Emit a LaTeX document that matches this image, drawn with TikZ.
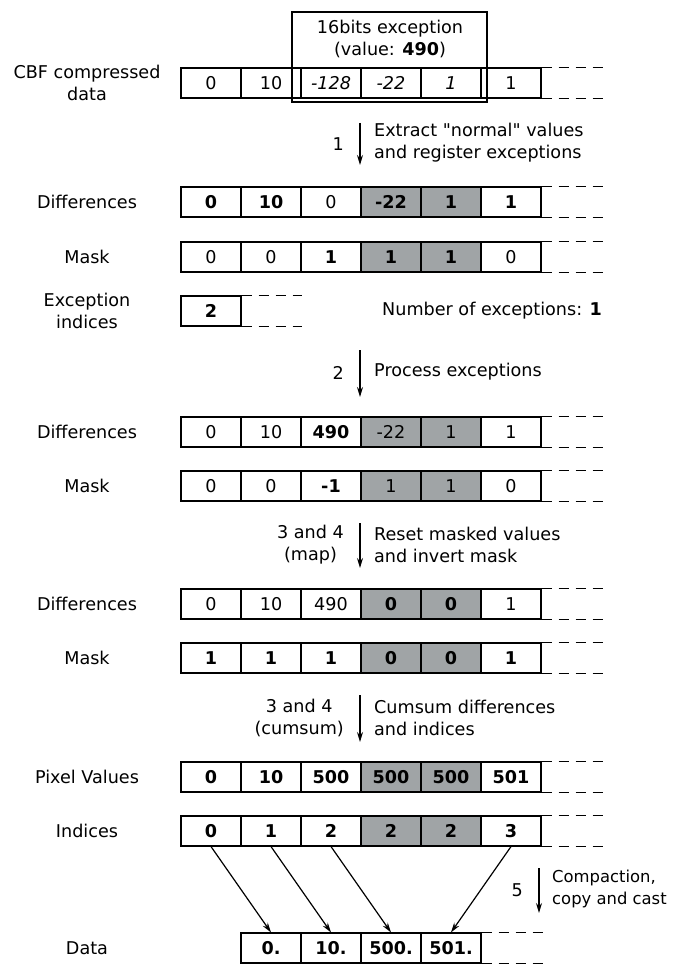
\documentclass[tikz,border=0pt]{standalone}
\usepackage{fontspec}
\setmainfont{DejaVu Sans}
\usetikzlibrary{arrows.meta}
\definecolor{shade}{RGB}{160,164,166}
\newcommand\fsz{\fontsize{17.6}{22}\selectfont}
\tikzset{
  cell/.style={draw, line width=1.1pt, minimum width=60pt, minimum height=30pt,
    inner sep=0pt, font=\fsz},
  cN/.style={cell},
  cB/.style={cell, font=\fsz\bfseries},
  cI/.style={cell, font=\fsz\itshape},
  cNS/.style={cell, fill=shade},
  cBS/.style={cell, fill=shade, font=\fsz\bfseries},
  rowlabel/.style={font=\fsz, align=center, inner sep=0pt},
  txt/.style={font=\fsz, align=left, inner sep=0pt},
  num/.style={font=\fsz, align=center, inner sep=0pt},
  frame/.style={line width=1.5pt},
  tail/.style={line width=1.3pt, dash pattern=on 10pt off 7pt},
  flow/.style={line width=1.2pt, -{Stealth[length=10pt,width=6pt]}},
}
% one row of cells: name, first cell x (left edge), y centre, list of style/text
\newcommand\rowcells[4]{%
  \foreach \st/\tx [count=\i] in {#4} {%
    \node[\st] (#1-\i) at ({#2+60*\i-30},#3) {\tx};
  }%
}
\begin{document}
\begin{tikzpicture}[x=1pt,y=-1pt]
\useasboundingbox (0,0) rectangle (678,965);

% ---------- compressed input ----------
\node[rowlabel] (lcbf) at (87,83) {CBF compressed\\data};
\rowcells{cbf}{181}{83}{cN/0,cN/10,cI/-128,cI/-22,cI/1,cN/1}
\draw[frame] (cbf-1.north west) rectangle (cbf-6.south east);
\draw[tail] (cbf-6.north east) -- ++(62,0);
\draw[tail] (cbf-6.south east) -- ++(62,0);
\node[draw, line width=1.5pt, minimum width=195pt, minimum height=90pt, inner sep=0pt]
  (exc) at (389.5,57) {};
\node[num] (exctxt) at (390,38.5) {16bits exception\\(value: \textbf{490})};

% step 1
\coordinate (s1a) at (360,123);
\coordinate (s1b) at (360,165);
\draw[flow] (s1a) -- (s1b);
\node[num, anchor=east] (n1) at (344,144) {1};
\node[txt, anchor=west] (t1) at (374,143) {Extract \textquotedbl normal\textquotedbl{} values\\and register exceptions};

% ---------- after step 1 ----------
\node[rowlabel] (ld1) at (87,202) {Differences};
\rowcells{d1}{181}{202}{cB/0,cB/10,cN/0,cBS/-22,cBS/1,cB/1}
\draw[frame] (d1-1.north west) rectangle (d1-6.south east);
\draw[tail] (d1-6.north east) -- ++(62,0);
\draw[tail] (d1-6.south east) -- ++(62,0);

\node[rowlabel] (lm1) at (87,257) {Mask};
\rowcells{m1}{181}{257}{cN/0,cN/0,cB/1,cBS/1,cBS/1,cN/0}
\draw[frame] (m1-1.north west) rectangle (m1-6.south east);
\draw[tail] (m1-6.north east) -- ++(62,0);
\draw[tail] (m1-6.south east) -- ++(62,0);

\node[rowlabel] (lex) at (87,311) {Exception\\indices};
\rowcells{ex}{181}{311}{cB/2}
\draw[frame] (ex-1.north west) rectangle (ex-1.south east);
\draw[tail] (ex-1.north east) -- ++(60,0);
\draw[tail] (ex-1.south east) -- ++(60,0);
\node[txt, anchor=west] (nex) at (382,311) {Number of exceptions: \textbf{1}};

% step 2
\coordinate (s2a) at (360,350);
\coordinate (s2b) at (360,397);
\draw[flow] (s2a) -- (s2b);
\node[num, anchor=east] (n2) at (344,373) {2};
\node[txt, anchor=west] (t2) at (374,372) {Process exceptions};

% ---------- after step 2 ----------
\node[rowlabel] (ld2) at (87,432) {Differences};
\rowcells{d2}{181}{432}{cN/0,cN/10,cB/490,cNS/-22,cNS/1,cN/1}
\draw[frame] (d2-1.north west) rectangle (d2-6.south east);
\draw[tail] (d2-6.north east) -- ++(62,0);
\draw[tail] (d2-6.south east) -- ++(62,0);

\node[rowlabel] (lm2) at (87,486) {Mask};
\rowcells{m2}{181}{486}{cN/0,cN/0,cB/-1,cNS/1,cNS/1,cN/0}
\draw[frame] (m2-1.north west) rectangle (m2-6.south east);
\draw[tail] (m2-6.north east) -- ++(62,0);
\draw[tail] (m2-6.south east) -- ++(62,0);

% step 3 and 4 (map)
\coordinate (s3a) at (360,523);
\coordinate (s3b) at (360,568);
\draw[flow] (s3a) -- (s3b);
\node[num, anchor=east] (n3) at (344,545) {3 and 4\\(map)};
\node[txt, anchor=west] (t3) at (374,545) {Reset masked values\\and invert mask};

% ---------- after map ----------
\node[rowlabel] (ld3) at (87,604) {Differences};
\rowcells{d3}{181}{604}{cN/0,cN/10,cN/490,cBS/0,cBS/0,cN/1}
\draw[frame] (d3-1.north west) rectangle (d3-6.south east);
\draw[tail] (d3-6.north east) -- ++(62,0);
\draw[tail] (d3-6.south east) -- ++(62,0);

\node[rowlabel] (lm3) at (87,658) {Mask};
\rowcells{m3}{181}{658}{cB/1,cB/1,cB/1,cBS/0,cBS/0,cB/1}
\draw[frame] (m3-1.north west) rectangle (m3-6.south east);
\draw[tail] (m3-6.north east) -- ++(62,0);
\draw[tail] (m3-6.south east) -- ++(62,0);

% step 3 and 4 (cumsum)
\coordinate (s4a) at (360,695);
\coordinate (s4b) at (360,742);
\draw[flow] (s4a) -- (s4b);
\node[num, anchor=east] (n4) at (344,718) {3 and 4\\(cumsum)};
\node[txt, anchor=west] (t4) at (374,718) {Cumsum differences\\and indices};

% ---------- after cumsum ----------
\node[rowlabel] (lpv) at (87,777) {Pixel Values};
\rowcells{pv}{181}{777}{cB/0,cB/10,cB/500,cBS/500,cBS/500,cB/501}
\draw[frame] (pv-1.north west) rectangle (pv-6.south east);
\draw[tail] (pv-6.north east) -- ++(62,0);
\draw[tail] (pv-6.south east) -- ++(62,0);

\node[rowlabel] (lix) at (87,831) {Indices};
\rowcells{ix}{181}{831}{cB/0,cB/1,cB/2,cBS/2,cBS/2,cB/3}
\draw[frame] (ix-1.north west) rectangle (ix-6.south east);
\draw[tail] (ix-6.north east) -- ++(62,0);
\draw[tail] (ix-6.south east) -- ++(62,0);

% step 5
\coordinate (s5a) at (539,868);
\coordinate (s5b) at (539,913);
\draw[flow] (s5a) -- (s5b);
\node[num, anchor=east] (n5) at (523,890) {5};
\node[txt, anchor=west, font=\fontsize{16.4}{22}\selectfont] (t5) at (552,889) {Compaction,\\copy and cast};

% ---------- output ----------
\node[rowlabel] (lda) at (87,948) {Data};
\rowcells{da}{241}{948}{cB/0.,cB/10.,cB/500.,cB/501.}
\draw[frame] (da-1.north west) rectangle (da-4.south east);
\draw[tail] (da-4.north east) -- ++(62,0);
\draw[tail] (da-4.south east) -- ++(62,0);

\draw[flow] (ix-1.south) -- (da-1.north);
\draw[flow] (ix-2.south) -- (da-2.north);
\draw[flow] (ix-3.south) -- (da-3.north);
\draw[flow] (ix-6.south) -- (da-4.north);
\end{tikzpicture}
\end{document}
